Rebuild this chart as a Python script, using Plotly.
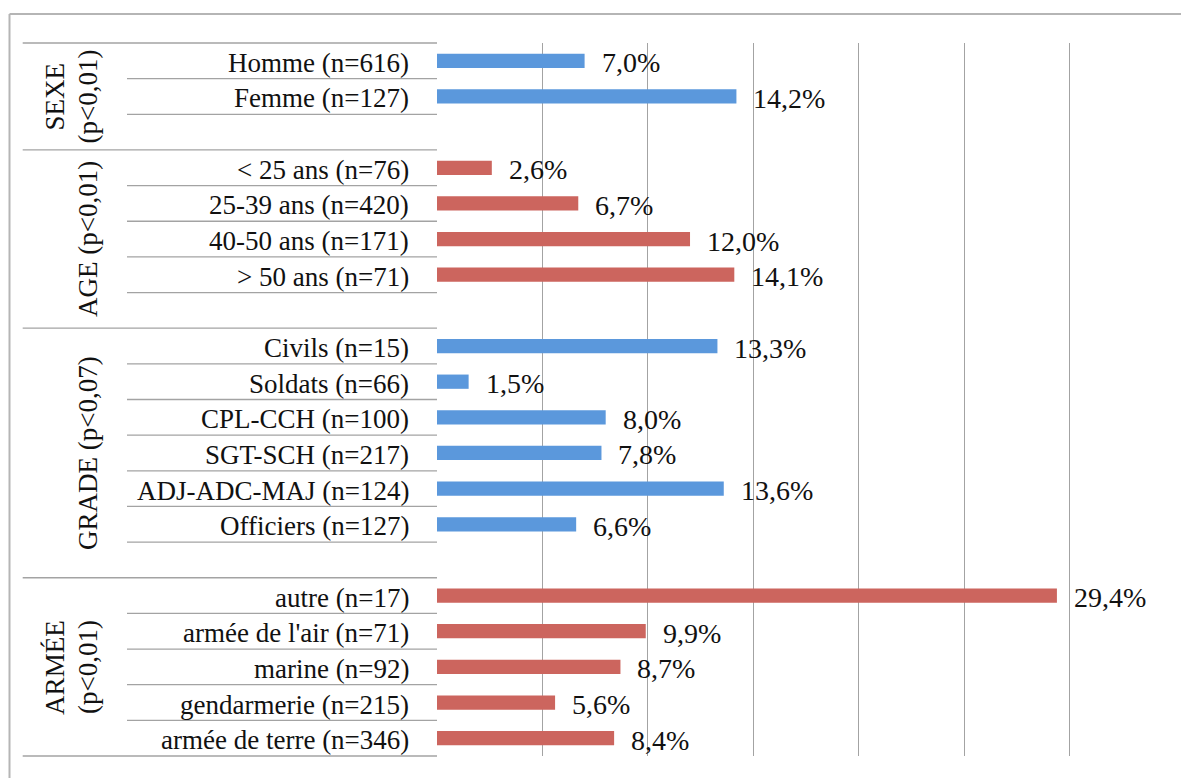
import plotly.graph_objects as go

# ---- data ----
group_titles = [["SEXE", "(p<0,01)"], ["AGE (p<0,01)"], ["GRADE (p<0,07)"], ["ARMÉE", "(p<0,01)"]]

sexe_labels = ["Homme (n=616)", "Femme (n=127)"]
sexe_values = [7.0, 14.2]

age_labels = ["< 25 ans (n=76)", "25-39 ans (n=420)", "40-50 ans (n=171)", "> 50 ans (n=71)"]
age_values = [2.6, 6.7, 12.0, 14.1]

grade_labels = ["Civils (n=15)", "Soldats (n=66)", "CPL-CCH (n=100)", "SGT-SCH (n=217)",
                "ADJ-ADC-MAJ (n=124)", "Officiers (n=127)"]
grade_values = [13.3, 1.5, 8.0, 7.8, 13.6, 6.6]

armee_labels = ["autre (n=17)", "armée de l'air (n=71)", "marine (n=92)",
                "gendarmerie (n=215)", "armée de terre (n=346)"]
armee_values = [29.4, 9.9, 8.7, 5.6, 8.4]

x_ticks = [0, 5, 10, 15, 20, 25, 30, 35]

# ---- style ----
BLUE = "#5b98dc"
RED = "#cc655e"
FONT = "Liberation Serif"
LINE = "#a3a3a3"
TXT = "#111111"

OFF = 8  # page body margin
W, H = 1189 - OFF, 778 - OFF
PLOT_L, PLOT_R, PLOT_T, PLOT_B = 437, 1175, 43, 756
ML, MT = PLOT_L - OFF, PLOT_T - OFF
MR = W - (PLOT_R - OFF)
MB = H - (PLOT_B - OFF)
PW = PLOT_R - PLOT_L
PH = PLOT_B - PLOT_T

groups = [
    (group_titles[0], sexe_labels, sexe_values, BLUE),
    (group_titles[1], age_labels, age_values, RED),
    (group_titles[2], grade_labels, grade_values, BLUE),
    (group_titles[3], armee_labels, armee_values, RED),
]

fig = go.Figure()
annotations = []
shapes = []

def px_x(px):
    return (px - PLOT_L) / PW

def px_y(py_abs):
    return (PLOT_B - py_abs) / PH

row = 0
group_bounds = []
for gi, (title, labels, values, color) in enumerate(groups):
    start = row
    rows = list(range(row, row + len(labels)))
    fig.add_trace(go.Bar(
        y=rows, x=values, orientation="h", width=0.4,
        marker=dict(color=color, line=dict(width=0)),
        hoverinfo="skip", showlegend=False,
    ))
    for r, lab, v in zip(rows, labels, values):
        annotations.append(dict(
            x=px_x(411), y=r, xref="paper", yref="y", text=lab,
            showarrow=False, xanchor="right", yanchor="middle", yshift=-2,
            font=dict(family=FONT, size=27, color=TXT),
        ))
        annotations.append(dict(
            x=v, y=r, xref="x", yref="y", text=f"{v:.1f}%".replace(".", ","),
            showarrow=False, xanchor="left", yanchor="middle", xshift=15, yshift=-2,
            font=dict(family=FONT, size=28, color=TXT),
        ))
    row += len(labels)
    if gi < len(groups) - 1:
        row += 1  # blank spacer row
    group_bounds.append((start, row, title))

NROWS = row

def py(b):
    return 1 - b / NROWS

# group titles (rotated, one annotation per line)
for start, end, title in group_bounds:
    xs = [55, 88] if len(title) == 2 else [88]
    for xpx, line in zip(xs, title):
        annotations.append(dict(
            x=px_x(xpx), y=py((start + end) / 2),
            xref="paper", yref="paper", text=line, textangle=-90,
            showarrow=False, xanchor="center", yanchor="middle", align="center",
            font=dict(family=FONT, size=27, color=TXT),
        ))

# table lines
major = {s for s, e, t in group_bounds} | {NROWS}
for b in range(NROWS + 1):
    x0 = px_x(22.7) if b in major else px_x(127)
    shapes.append(dict(type="line", xref="paper", yref="paper",
                       x0=x0, x1=0, y0=py(b), y1=py(b),
                       line=dict(color=LINE, width=1.3)))

# outer frame (left and top)
top_y = px_y(14)
shapes.append(dict(type="line", xref="paper", yref="paper",
                   x0=px_x(9.5), x1=px_x(9.5), y0=top_y, y1=px_y(790),
                   line=dict(color="#b5b5b5", width=2)))
shapes.append(dict(type="line", xref="paper", yref="paper",
                   x0=px_x(9.5), x1=px_x(1200), y0=top_y, y1=top_y,
                   line=dict(color="#b5b5b5", width=2)))

fig.update_layout(
    width=W, height=H,
    margin=dict(l=ML, r=MR, t=MT, b=MB, pad=0),
    paper_bgcolor="white", plot_bgcolor="white",
    barmode="overlay",
    font=dict(family=FONT, color=TXT),
    xaxis=dict(range=[0, 35], tickvals=x_ticks, showgrid=True, gridcolor=LINE,
               gridwidth=1, showticklabels=False, zeroline=False, showline=False,
               ticks="", fixedrange=True),
    yaxis=dict(range=[NROWS - 0.5, -0.5], showticklabels=False,
               showgrid=False, zeroline=False, showline=False, ticks="",
               fixedrange=True),
    annotations=annotations,
    shapes=shapes,
)

fig.write_html("out.html")
